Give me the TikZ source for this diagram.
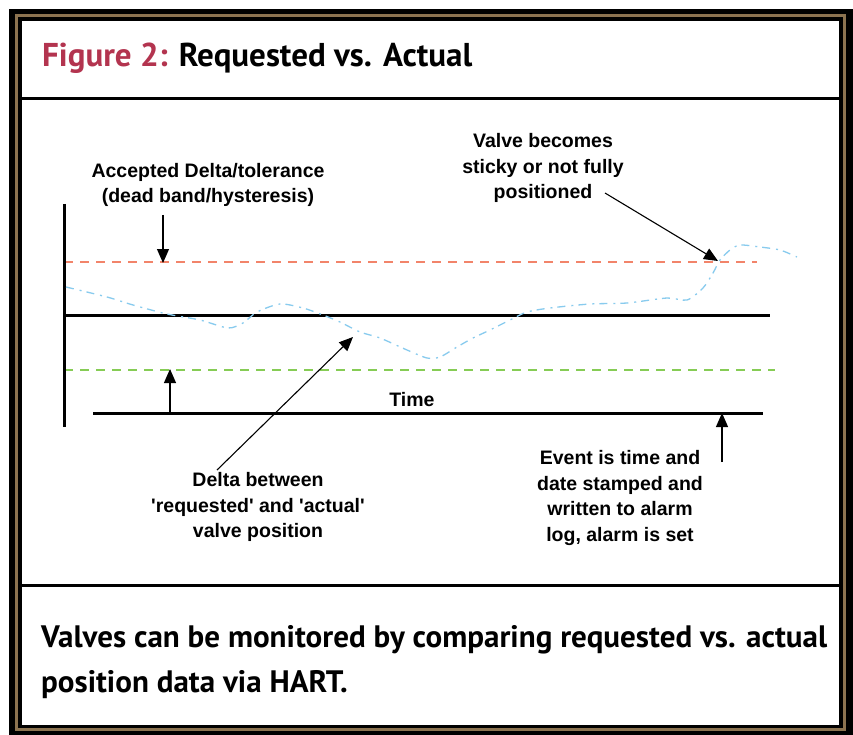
\documentclass[tikz,border=0pt]{standalone}
\usepackage{fontspec}
\setmainfont{Liberation Sans}[Ligatures=TeXOff]
\newfontfamily\headfont{PT Sans}
\usetikzlibrary{arrows.meta}

\definecolor{framegold}{HTML}{8C7350}
\definecolor{titlered}{HTML}{B3344F}
\definecolor{tolred}{HTML}{F2846A}
\definecolor{tolgreen}{HTML}{86CC55}
\definecolor{actblue}{HTML}{88CBEE}

\tikzset{
  axisline/.style={line width=3pt, black},
  tolline/.style={line width=1.2pt, dash pattern=on 9pt off 7pt},
  actline/.style={line width=1.3pt, actblue, dash pattern=on 8pt off 6pt on 2pt off 5pt},
  callout/.style={line width=1.1pt, -{Triangle[length=14pt,width=12pt]}},
  label/.style={font=\bfseries\fontsize{19.5}{25.5}\selectfont, align=center, inner sep=0pt},
  headtext/.style={font=\headfont\bfseries, anchor=base west, inner sep=0pt},
}

% caption lines share one horizontal squeeze, set by the first line's width
\newsavebox\capbox
\newcommand\capfont{\headfont\bfseries\fontsize{31}{31}\selectfont}

\begin{document}
\sbox\capbox{\capfont Valves can be monitored by comparing requested vs. actual}%
\pgfmathsetmacro\capscale{786/\wd\capbox}%
\begin{tikzpicture}[x=1pt, y=-1pt]
\useasboundingbox (0,0) rectangle (853,735);

% framed panel: black, gold inlay, black, white field
\fill[black] (9,9) rectangle (853,735);
\fill[framegold] (15,14) rectangle (845.5,730.5);
\fill[black] (18,17.5) rectangle (842.5,727.5);
\fill[white] (22,21) rectangle (839,725);
\draw[line width=3pt] (22,99) -- (839,99);
\draw[line width=3pt] (22,585) -- (839,585);

% heading and caption
\node[headtext] (title) at (42,67) {\resizebox{430pt}{\height}{\fontsize{33}{33}\selectfont\color{titlered}Figure 2: \color{black}Requested vs. Actual}};
\node[headtext] (cap1) at (41,647) {\scalebox{\capscale}[1]{\capfont Valves can be monitored by comparing requested vs. actual}};
\node[headtext] (cap2) at (41,692) {\scalebox{\capscale}[1]{\capfont position data via HART.}};

% axes and reference lines
\coordinate (ytop) at (64,204);
\coordinate (ybot) at (64,427);
\coordinate (spL) at (64,315);
\coordinate (spR) at (770,315);
\coordinate (tL) at (93,413);
\coordinate (tR) at (763,413);
\coordinate (hiL) at (64,262);
\coordinate (hiR) at (757,262);
\coordinate (loL) at (64,370);
\coordinate (loR) at (775,370);

\draw[tolline, tolred] (hiL) -- (hiR);
\draw[tolline, tolgreen] (loL) -- (loR);
\draw[axisline] (ytop) -- (ybot);
\draw[axisline] (spL) -- (spR);
\draw[axisline] (tL) -- (tR);

% actual valve position
\draw[actline] plot[smooth, tension=0.45] coordinates {
  (66,287) (107,297) (133,305) (167,314) (200,320) (228,328) (243,323)
  (257,312) (280,304) (303,308) (323,315) (340,322) (360,332) (380,338)
  (407,350) (427,358) (440,357) (457,347) (473,338) (490,330) (510,320)
  (527,312) (550,308) (590,304) (627,303) (667,298) (687,300) (703,288)
  (713,273) (720,260) (730,250) (740,245) (760,247) (780,250) (797,257)};

% labels
\node[label] (time) at (412,400) {Time};
\node[label] (tol) at (208,185) {Accepted Delta/tolerance\\(dead band/hysteresis)};
\node[label] (sticky) at (543,168) {Valve becomes\\sticky or not fully\\positioned};
\node[label] (delta) at (258,507) {Delta between\\'requested' and 'actual'\\valve position};
\node[label] (event) at (620,498) {Event is time and\\date stamped and\\written to alarm\\log, alarm is set};

% callout arrows
\coordinate (tolS) at (163,215);
\coordinate (tolE) at (163,263);
\coordinate (bandS) at (170,413);
\coordinate (bandE) at (170,369);
\coordinate (deltaS) at (217,470);
\coordinate (deltaE) at (353,337);
\coordinate (stickyS) at (605,193);
\coordinate (stickyE) at (718,261);
\coordinate (eventS) at (722,462);
\coordinate (eventE) at (722,413);

\draw[callout] (tolS) -- (tolE);
\draw[callout] (bandS) -- (bandE);
\draw[callout] (deltaS) -- (deltaE);
\draw[callout] (stickyS) -- (stickyE);
\draw[callout] (eventS) -- (eventE);
\end{tikzpicture}
\end{document}
